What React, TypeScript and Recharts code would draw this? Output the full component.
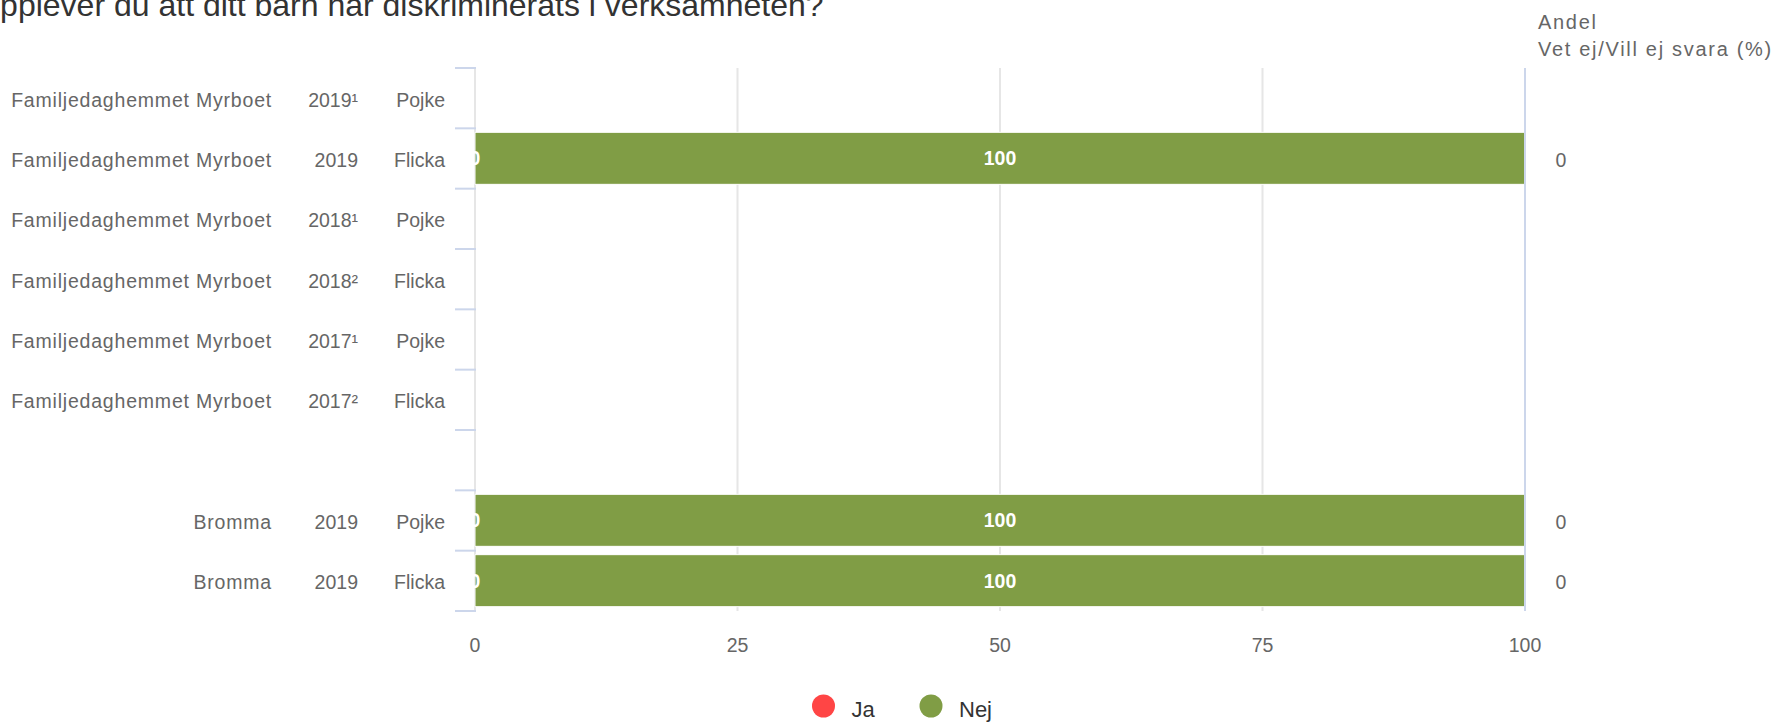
import React from 'react';
import { Bar, BarChart, CartesianGrid, LabelList, XAxis, YAxis } from 'recharts';

const units = [
  'Familjedaghemmet Myrboet',
  'Familjedaghemmet Myrboet',
  'Familjedaghemmet Myrboet',
  'Familjedaghemmet Myrboet',
  'Familjedaghemmet Myrboet',
  'Familjedaghemmet Myrboet',
  '',
  'Bromma',
  'Bromma',
];
const years = ['2019¹', '2019', '2018¹', '2018²', '2017¹', '2017²', '', '2019', '2019'];
const genders = ['Pojke', 'Flicka', 'Pojke', 'Flicka', 'Pojke', 'Flicka', '', 'Pojke', 'Flicka'];
const jaValues = [null, 0, null, null, null, null, null, 0, 0];
const nejValues = [null, 100, null, null, null, null, null, 100, 100];
const vetEjValues = [null, 0, null, null, null, null, null, 0, 0];
const xTicks = [0, 25, 50, 75, 100];
const seriesNames = ['Ja', 'Nej'];
const seriesColors = ['#ff4545', '#809d45'];
const title = 'Upplever du att ditt barn har diskriminerats i verksamheten?';
const rightHeader = ['Andel', 'Vet ej/Vill ej svara (%)'];

const data = units.map((unit, i) => ({
  key: `row${i}`,
  unit,
  year: years[i],
  gender: genders[i],
  ja: jaValues[i],
  nej: nejValues[i],
  vetEj: vetEjValues[i],
}));

const W = 1777;
const H = 723;
const PLOT_TOP = 68;
const PLOT_BOTTOM = 611;
const PLOT_LEFT = 475;
const PLOT_RIGHT = 1525;
const BAND = (PLOT_BOTTOM - PLOT_TOP) / data.length;
const FONT = '"Liberation Sans", Arial, Helvetica, sans-serif';
const LABEL_SIZE = 19.5;
const AXIS_COLOR = '#ccd6eb';

const LeftTick = (props: any) => {
  const { y, index } = props;
  const row = data[index];
  const top = y - BAND / 2;
  const base = y + 8.5;
  return (
    <g>
      <line x1={PLOT_LEFT - 20} x2={PLOT_LEFT + 1} y1={top} y2={top} stroke={AXIS_COLOR} strokeWidth={2} />
      {index === data.length - 1 && (
        <line x1={PLOT_LEFT - 20} x2={PLOT_LEFT + 1} y1={top + BAND} y2={top + BAND} stroke={AXIS_COLOR} strokeWidth={2} />
      )}
      <text x={PLOT_LEFT - 203} y={base} textAnchor="end" fill="#666" fontSize={LABEL_SIZE} letterSpacing={0.8} fontFamily={FONT}>{row.unit}</text>
      <text x={PLOT_LEFT - 117} y={base} textAnchor="end" fill="#666" fontSize={LABEL_SIZE} fontFamily={FONT}>{row.year}</text>
      <text x={PLOT_LEFT - 30} y={base} textAnchor="end" fill="#666" fontSize={LABEL_SIZE} fontFamily={FONT}>{row.gender}</text>
    </g>
  );
};

const RightTick = (props: any) => {
  const { y, index } = props;
  const v = data[index].vetEj;
  if (v == null) return null;
  return (
    <text x={PLOT_RIGHT + 36} y={y + 8.5} textAnchor="middle" fill="#666" fontSize={LABEL_SIZE} fontFamily={FONT}>
      {v}
    </text>
  );
};

const labelText = (cx: number, cy: number, value: any) => (
  <text
    x={cx}
    y={cy + 7}
    textAnchor="middle"
    fill="#fff"
    fontWeight="bold"
    fontSize={LABEL_SIZE}
    fontFamily={FONT}
  >
    {value}
  </text>
);

// Nej labels, centred in the bar
const renderNejLabel = (props: any) => {
  const { x, y, width, height, value } = props;
  if (value == null) return null;
  return labelText(x + width / 2, y + height / 2, value);
};

// Ja labels are drawn after the Nej bars so they sit on top; Ja ends where Nej starts
const renderJaLabel = (props: any) => {
  const { x, y, height, value } = props;
  if (value == null) return null;
  return labelText(x, y + height / 2, value);
};

export default function App() {
  return (
    <div style={{ position: 'absolute', left: 0, top: 0, width: W, height: H, background: '#fff', fontFamily: FONT }}>
      <BarChart
        width={W}
        height={H}
        data={data}
        layout="vertical"
        margin={{ top: PLOT_TOP, right: 0, bottom: H - PLOT_BOTTOM - 60, left: 0 }}
        barSize={52}
      >
        <CartesianGrid horizontal={false} stroke="#e6e6e6" strokeWidth={2} />
        <XAxis
          type="number"
          domain={[0, 100]}
          ticks={xTicks}
          axisLine={false}
          tickLine={false}
          tickSize={0}
          tickMargin={27}
          height={60}
          tick={{ fill: '#666', fontSize: LABEL_SIZE, fontFamily: FONT }}
        />
        <YAxis
          type="category"
          dataKey="key"
          width={PLOT_LEFT}
          axisLine={false}
          tickLine={false}
          tickSize={0}
          interval={0}
          tick={<LeftTick />}
        />
        <YAxis
          yAxisId="right"
          orientation="right"
          type="category"
          dataKey="key"
          width={W - PLOT_RIGHT}
          axisLine={{ stroke: AXIS_COLOR, strokeWidth: 2 }}
          tickLine={false}
          tickSize={0}
          interval={0}
          tick={<RightTick />}
        />
        <Bar dataKey="ja" name={seriesNames[0]} stackId="a" fill={seriesColors[0]} stroke="#fff" strokeWidth={1} isAnimationActive={false} />
        <Bar dataKey="nej" name={seriesNames[1]} stackId="a" fill={seriesColors[1]} stroke="#fff" strokeWidth={1} isAnimationActive={false}>
          <LabelList dataKey="nej" content={renderNejLabel} />
          <LabelList dataKey="ja" content={renderJaLabel} />
        </Bar>
      </BarChart>
      <svg width={W} height={H} style={{ position: 'absolute', left: 0, top: 0, pointerEvents: 'none' }}>
        <text x={-23} y={16} fill="#333" fontSize={32} fontFamily={FONT}>{title}</text>
        <text x={1538} y={29} fill="#666" fontSize={20} letterSpacing={1.7} fontFamily={FONT}>{rightHeader[0]}</text>
        <text x={1538} y={56} fill="#666" fontSize={20} letterSpacing={1.7} fontFamily={FONT}>{rightHeader[1]}</text>
        {seriesNames.map((name, i) => {
          const cx = [823.5, 931][i];
          return (
            <g key={name}>
              <circle cx={cx} cy={706} r={11.5} fill={seriesColors[i]} />
              <text x={cx + 28} y={717} fill="#333" fontSize={22} fontFamily={FONT}>{name}</text>
            </g>
          );
        })}
      </svg>
    </div>
  );
}
